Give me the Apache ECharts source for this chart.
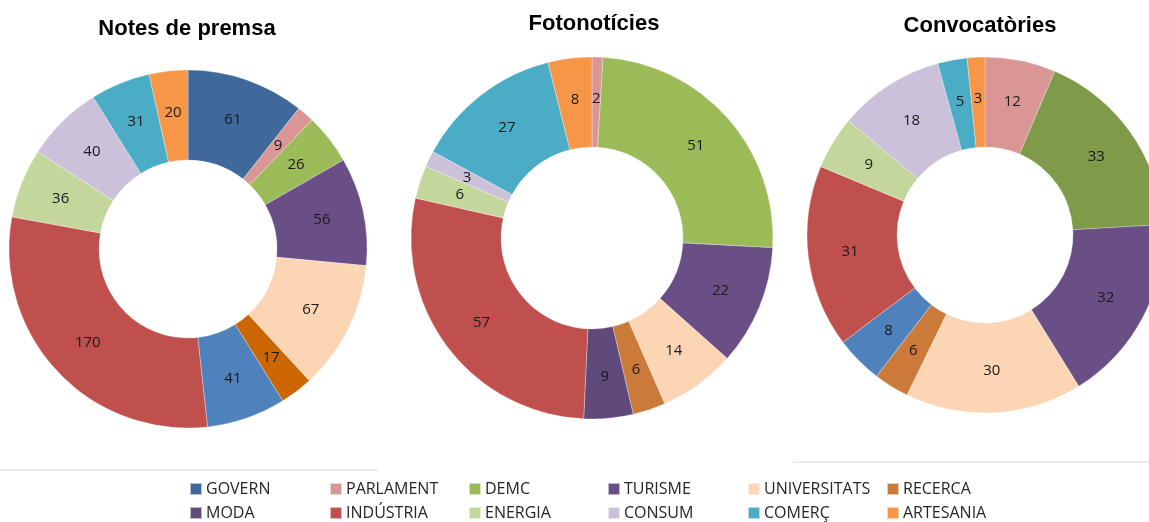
<!DOCTYPE html>
<html>
<head>
<meta charset="utf-8">
<script src="https://cdn.jsdelivr.net/npm/echarts@6/dist/echarts.min.js"></script>
<style>html,body{margin:0;padding:0;background:#fff}#c{width:1149px;height:522px}</style>
</head>
<body>
<div id="c"></div>
<script>
// Categories (legend order)
const categories = ['GOVERN','PARLAMENT','DEMC','TURISME','UNIVERSITATS','RECERCA','MODA','INDÚSTRIA','ENERGIA','CONSUM','COMERÇ','ARTESANIA'];
// Chart titles
const titles = ['Notes de premsa','Fotonotícies','Convocatòries'];
// Values per chart (same order as categories)
const notesPremsa    = [61, 9, 26, 56, 67, 17, 41, 170, 36, 40, 31, 20];
const fotonoticies   = [0, 2, 51, 22, 14, 6, 9, 57, 6, 3, 27, 8];
const convocatories  = [0, 12, 33, 32, 30, 6, 8, 31, 9, 18, 5, 3];
// Colours
const legendColors = ['#3F699A','#D99694','#9BBB59','#6A4F87','#FCD5B5','#CC7A3A','#604A7B','#C0504D','#C3D69B','#CCC1DA','#4BACC6','#F79646'];
const colors1 = ['#3F699A','#D99694','#9BBB59','#6A4F87','#FCD5B5','#CC6600','#4F81BD','#C0504D','#C3D69B','#CCC1DA','#4BACC6','#F79646'];
const colors2 = ['#3F699A','#D99694','#9BBB59','#6A4F87','#FCD5B5','#CC7A3A','#604A7B','#C0504D','#C3D69B','#CCC1DA','#4BACC6','#F79646'];
const colors3 = ['#3F699A','#D99694','#7F9B4A','#6A4F87','#FCD5B5','#CC7A3A','#4F81BD','#C0504D','#C3D69B','#CCC1DA','#4BACC6','#F79646'];

const chart = echarts.init(document.getElementById('c'), null, {renderer:'canvas'});

function mkData(vals, cols){
  return categories.map((n,i)=>({name:n, value:vals[i], itemStyle:{color:cols[i]}}));
}
function mkSeries(vals, cols, center, radius){
  return {
    type:'pie', center:center, radius:radius, startAngle:90, clockwise:true,
    avoidLabelOverlap:false, animation:false,
    itemStyle:{borderColor:'rgba(255,255,255,0.6)', borderWidth:0.5},
    label:{show:true, position:'inside', fontFamily:'Open Sans', fontSize:15, color:'#1a1a1a',
      formatter:p=> p.value===0 ? '' : String(p.value)},
    labelLine:{show:false},
    emphasis:{disabled:true},
    data: mkData(vals, cols)
  };
}
const colLefts = [189, 329, 468, 607, 747, 886];
const legends = colLefts.map((left, c) => ({
  top: 481, left: left, height: 80, width: 140, orient:'vertical', itemWidth:12, itemHeight:12, itemGap:8, icon:'rect',
  padding: 0,
  selectedMode:false,
  textStyle:{fontFamily:'Open Sans', fontSize:16, lineHeight:16, color:'#262626', padding:[0,0,0,-1]},
  data: [categories[c], categories[c+6]].map(n=>({name:n, itemStyle:{color:legendColors[categories.indexOf(n)]}}))
}));

chart.setOption({
  backgroundColor:'#fff',
  title:[
    {text:titles[0], left:182, top:13, textAlign:'center', textStyle:{fontFamily:'Liberation Sans', fontWeight:'bold', fontSize:22, color:'#000'}},
    {text:titles[1], left:589, top:8, textAlign:'center', textStyle:{fontFamily:'Liberation Sans', fontWeight:'bold', fontSize:22, color:'#000'}},
    {text:titles[2], left:975, top:10, textAlign:'center', textStyle:{fontFamily:'Liberation Sans', fontWeight:'bold', fontSize:22, color:'#000'}}
  ],
  legend: legends,
  graphic:[
    {type:'line', shape:{x1:0,y1:470,x2:378,y2:470}, style:{stroke:'#E3E3E3', lineWidth:1.5}},
    {type:'line', shape:{x1:793,y1:462,x2:1149,y2:462}, style:{stroke:'#E3E3E3', lineWidth:1.5}}
  ],
  series:[
    mkSeries(notesPremsa, colors1, [188,249], [89,179]),
    mkSeries(fotonoticies, colors2, [592,238], [91,181]),
    mkSeries(convocatories, colors3, [985,235], [88,178])
  ]
});
</script>
</body>
</html>
